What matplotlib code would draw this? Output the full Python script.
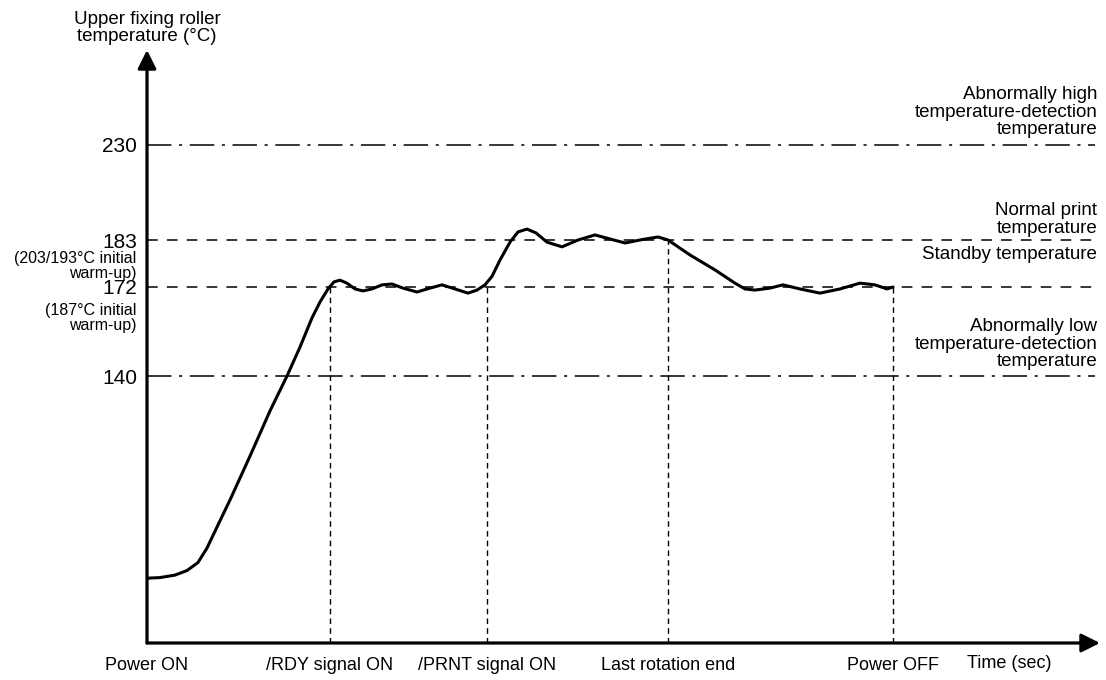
import numpy as np
import matplotlib
matplotlib.use('Agg')
import matplotlib.pyplot as plt

plt.rcParams['font.family'] = ['Liberation Sans', 'DejaVu Sans']

# event times (arbitrary time units along the axis)
event_names = ['Power ON', '/RDY signal ON', '/PRNT signal ON', 'Last rotation end', 'Power OFF']
event_times = [0, 183, 340, 521, 746]
# temperature at which each vertical marker line stops
event_temps = [None, 172, 172, 183, 172]

# reference temperatures
ref_temps = [230, 183, 172, 140]

# roller temperature curve
time = [1, 13, 28, 40, 51, 60, 71, 83, 103, 123, 140, 153, 165, 173, 181, 187, 193,
        200, 208, 216, 225, 235, 245, 256, 270, 283, 295, 308, 321, 330, 338, 345, 353,
        363, 371, 380, 389, 400, 415, 431, 448, 463, 478, 495, 511, 521, 543, 568, 588,
        598, 608, 623, 636, 653, 673, 693, 713, 728, 740, 746]
temp = [34, 34.3, 35.6, 38, 42.2, 49.8, 61.9, 75, 98, 121.7, 140, 150.4, 160.9, 166.6,
        171.3, 173.2, 173.6, 172.9, 171.3, 170.6, 171.3, 172.5, 172.7, 171.6, 170.2, 171.6,
        172.5, 171.3, 169.8, 170.9, 172.5, 174.5, 178.3, 182.5, 187, 188.4, 186.5, 182.5,
        181.4, 183, 185.5, 183.5, 182.3, 183.2, 184.5, 183, 179.5, 176, 172.9, 171.3,
        170.9, 171.6, 172.5, 171.3, 169.8, 171.3, 172.9, 172.5, 171.3, 172]

# the drawing uses a non-uniform temperature axis
scale_t = [0, 140, 172, 183, 230, 265]
scale_h = [0, 267, 356, 403, 498, 593]


def fwd(v):
    return np.interp(v, scale_t, scale_h)


def inv(v):
    return np.interp(v, scale_h, scale_t)


fig = plt.figure(figsize=(11.06, 6.8), dpi=100)
ax = fig.add_axes([147 / 1106, 37 / 680, 953 / 1106, 593 / 680])
ax.set_yscale('function', functions=(fwd, inv))
ax.set_xlim(0, 953)
ax.set_ylim(0, 265)

for s in ax.spines.values():
    s.set_visible(False)

# axes with arrows
arrow = dict(arrowstyle='-|>', lw=2.3, color='black', mutation_scale=28, shrinkA=0, shrinkB=0)
ax.annotate('', xy=(0, 1), xytext=(0, 0), xycoords='axes fraction', arrowprops=arrow)
ax.annotate('', xy=(1, 0), xytext=(0, 0), xycoords='axes fraction', arrowprops=arrow)

# reference lines
dashdot = (0, (16, 5, 2, 5))
dashed = (0, (7, 6))
for t in ref_temps:
    ls = dashdot if t in (230, 140) else dashed
    ax.axhline(t, color='black', lw=1.1, linestyle=ls, xmax=0.995)

# vertical event markers
for t, top in zip(event_times, event_temps):
    if top is not None:
        ax.vlines(t, 0, top, colors='black', lw=1.0, linestyles=(0, (4, 3)))

ax.plot(time, temp, color='black', lw=2.2, solid_joinstyle='round', solid_capstyle='round')

ax.set_yticks(ref_temps)
ax.set_yticklabels([str(t) for t in ref_temps], fontsize=15)
ax.set_xticks(event_times)
ax.set_xticklabels(event_names, fontsize=13)
ax.tick_params(axis='both', length=0)
ax.tick_params(axis='y', pad=7)
ax.tick_params(axis='x', pad=10)

ax.text(0, 1.008, 'Upper fixing roller\ntemperature (°C)', transform=ax.transAxes,
        ha='center', va='bottom', fontsize=13.5, linespacing=1.0, clip_on=False)

ytr = ax.get_yaxis_transform()
ax.text(-0.011, 176.9, '(203/193°C initial\nwarm-up)', transform=ytr, ha='right',
        va='center', fontsize=11.5, linespacing=1.0)
ax.text(-0.011, 160.8, '(187°C initial\nwarm-up)', transform=ytr, ha='right',
        va='center', fontsize=11.5, linespacing=1.0)

side_labels = [
    ('Abnormally high\ntemperature-detection\ntemperature', 232.5, 'bottom'),
    ('Normal print\ntemperature', 184.5, 'bottom'),
    ('Standby temperature', 179.5, 'center'),
    ('Abnormally low\ntemperature-detection\ntemperature', 142, 'bottom'),
]
for label, y, va in side_labels:
    ax.text(0.997, y, label, transform=ytr, ha='right', va=va,
            fontsize=13.5, linespacing=1.05)

ax.text(0.905, -0.034, 'Time (sec)', transform=ax.transAxes, ha='center', va='center',
        fontsize=13)

fig.savefig('out.png', dpi=100)
